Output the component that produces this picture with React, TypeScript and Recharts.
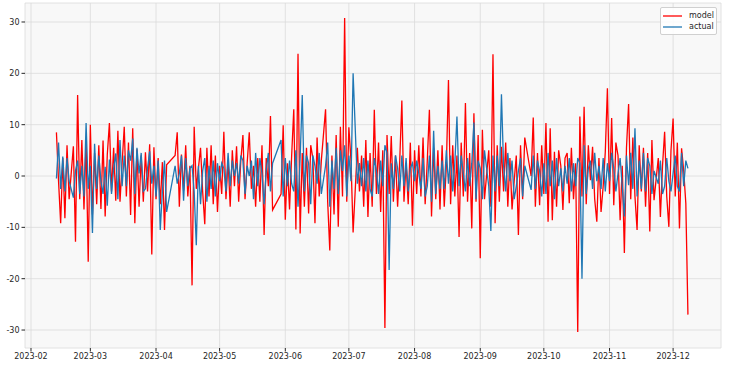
import React from 'react';
import { LineChart, Line, XAxis, YAxis, CartesianGrid } from 'recharts';

// weekday observations, counted as days since 2023-02-01
const days = [
  12, 13, 14, 15, 16, 20, 21, 22, 23, 26, 27, 28, 29, 30,
  33, 34, 35, 36, 37, 40, 41, 42, 43, 44, 47, 48, 49, 50, 51,
  54, 55, 56, 57, 58, 61, 62, 63, 64, 68, 69, 70, 71, 72,
  75, 76, 77, 78, 79, 82, 83, 84, 85, 86, 89, 90, 91, 92, 93,
  96, 97, 98, 99, 100, 103, 104, 105, 106, 107, 110, 111, 112, 113, 114,
  118, 119, 120, 121, 124, 125, 126, 127, 128, 131, 132, 133, 134, 135,
  139, 140, 141, 142, 145, 146, 147, 148, 149, 152, 154, 155, 156,
  159, 160, 161, 162, 163, 166, 167, 168, 169, 170, 173, 174, 175, 176, 177,
  180, 181, 182, 183, 184, 187, 188, 189, 190, 191, 194, 195, 196, 197, 198,
  201, 202, 203, 204, 205, 208, 209, 210, 211, 212, 216, 217, 218, 219,
  222, 223, 224, 225, 226, 229, 230, 231, 232, 233, 236, 237, 238, 239, 240,
  243, 244, 245, 246, 247, 250, 251, 252, 253, 254, 257, 258, 259, 260, 261,
  264, 265, 266, 267, 268, 271, 272, 273, 274, 275, 278, 279, 280, 281, 282,
  285, 286, 287, 288, 289, 292, 293, 294, 296, 299, 300, 301, 302, 303,
  306, 307, 308, 309, 310,
];

const model = [
  8.5, -1.0, -9.2, 3.5, -8.2, 5.8, -12.8, 15.8, -4.5, 6.6, -16.7, 10.0, -7.5, 4.5,
  -6.4, 6.9, -7.9, 4.2, 10.3, -4.8, 8.8, -5.0, 2.5, 9.6, -7.6, 9.3, -9.2, 5.2, -6.0,
  4.6, -3.0, 6.2, -15.3, 5.6, -5.5, 2.7, -10.5, 2.2, 4.0, 8.5, -6.0, 4.2, -2.8,
  2.0, -21.3, 9.6, -2.5, 1.5, -9.4, 5.5, -4.0, 6.0, -5.5, 2.0, -3.5, 8.6, -4.5, 3.0,
  -2.0, 5.8, -5.0, 3.0, 8.0, 8.5, -2.5, 2.0, -6.0, 3.5, -11.5, 3.5, -2.0, 11.7, -6.6,
  -3.5, 9.9, -8.5, 2.5, 13.0, -10.4, 23.8, -11.2, 4.5, -7.3, 6.0, 3.5, -9.2, 7.5,
  13.0, -5.0, -14.5, 4.0, -9.9, 9.6, -4.0, 30.8, -5.0, -11.0, 5.5, -3.0, 4.0,
  -8.0, 4.5, -6.0, 12.9, -3.5, 5.0, -29.6, 8.0, -3.5, 7.8, -6.0, 3.0, 14.7, -5.0, 2.5,
  -9.7, 5.0, -3.5, 6.0, -4.0, 3.0, 12.9, -7.9, 5.5, -4.5, 6.0, -6.0, 2.0, 18.7, -5.5,
  4.0, -11.9, 6.5, -4.0, 14.2, -10.2, 12.2, -5.0, 8.0, -16.0, 5.0, -6.0, 23.7, -9.2,
  5.7, -3.0, 6.5, -6.0, 3.5, 4.0, -11.5, 6.0, -4.5, 7.5, 0.0, 11.4, -6.0, 4.5, -5.7,
  10.3, -8.9, 9.3, -8.6, 4.7, 2.0, -6.6, 3.5, 4.5, -5.3, 2.5, -30.4, 11.6, -4.0, 13.5,
  -0.8, 5.7, -4.5, -8.9, 3.5, 4.7, 17.1, -3.5, 11.3, -5.7, -8.6, 2.0, -15.0, 5.5, 14.0,
  -4.0, -10.5, 6.0, -3.0, 5.5, -10.8, 7.0, -4.7, 3.5, 8.6, -4.0, -9.9, 5.0, 11.2,
  -10.2, 5.4, 1.0, -5.3, -27.0,
];

const actual = [
  -0.5, 6.5, -2.5, 3.8, -3.0, -4.2, 1.0, 3.0, -3.5, 10.3, -2.5, 2.0, -11.1, 6.3,
  -1.0, -3.5, 1.8, -5.8, 3.2, 4.4, -4.5, 7.0, -2.0, 4.0, 3.0, 7.3, -3.5, 5.5, 0.5,
  -2.5, 1.5, 4.8, -1.5, 2.0, -10.5, -3.0, 3.0, -7.0, 2.0, -1.5, 0.5, 4.0, -4.8,
  1.5, 2.0, -3.0, -13.5, 2.0, 3.5, -5.0, 2.0, -2.5, 3.0, -1.0, 2.5, 1.5, -3.0, 4.5,
  0.0, 2.5, -1.5, 4.0, 3.0, 0.0, 3.0, -4.5, 4.5, -2.0, -5.5, 1.0, 4.5, -3.0, 2.5,
  7.0, -4.0, 3.5, -2.0, -3.0, 5.0, -6.0, 3.5, 15.8, 2.5, -5.5, 4.0, 2.0, -1.5,
  2.0, 6.5, -6.0, 3.0, -3.5, 5.0, 1.0, 6.0, -4.0, 20.0, -1.5, 2.5, -2.0,
  3.0, -2.5, -4.0, 3.5, 1.0, -2.0, 6.0, 4.5, -18.3, 2.5, 1.5, -3.0, 4.0, -2.0, 3.5,
  2.5, -1.0, 3.0, 0.5, -2.5, -2.0, 4.0, -5.0, 8.8, -3.5, 3.0, -2.5, 5.0, -1.5, 4.0,
  11.6, -2.0, 4.0, 0.5, -3.0, 2.5, 10.4, -4.5, 3.0, 1.5, -2.0, -10.7, 4.0, -3.0,
  15.9, 2.0, -3.0, 4.5, -1.0, -2.0, 1.0, 3.5, -4.0, 2.0, -2.7, 4.0, -2.5, 3.0, 1.0,
  -3.5, 4.5, -2.0, 3.0, -4.5, 1.5, -3.0, 2.0, -1.5, 3.5, -2.0, 3.5, 2.5, -20.0, 6.0,
  3.0, -2.5, 4.5, -1.0, 2.0, -3.0, 2.5, -1.0, 4.5, 1.5, 3.5, -2.0, -7.9, 4.0, -1.8,
  9.3, -4.0, 3.0, -2.5, 4.5, 2.0, -3.5, 1.0, -1.5, -2.0, 3.5, -1.0, -3.0, 0.5,
  -3.0, 4.5, -2.0, 3.0, 1.5,
];

// weekend observations (Sat, Sun), same day counting
const weekendDays = [
  17, 18, 24, 25, 31, 32, 38, 39, 45, 46, 52, 53, 59, 60,
  73, 74, 80, 81, 87, 88, 94, 95, 101, 102, 108, 109,
  122, 123, 129, 130, 136, 137, 143, 144, 150, 151, 157, 158, 164, 165,
  171, 172, 178, 179, 185, 186, 192, 193, 199, 200, 206, 207, 213, 214,
  220, 221, 227, 228, 241, 242, 248, 249, 255, 256, 262, 263, 269, 270,
  276, 277, 283, 284, 290, 291, 297, 298, 304, 305,
];

const weekendModel = [
  6.0, -4.5, 7.0, -6.5, -5.5, 6.0, -3.0, 5.5, -4.0, 6.5, 4.0, -5.0, -4.5, 3.5,
  6.0, -4.0, 5.5, -3.0, 4.0, -7.0, -6.0, 5.0, -4.5, 2.5, -5.0, 6.0,
  -6.5, 4.0, -6.0, 5.5, -4.0, 3.0, -7.5, 8.0, 9.5, 3.0, -6.0, 7.0, 6.5, -7.0,
  -5.0, 4.0, -5.5, 6.5, 7.5, -5.5, 5.0, -6.5, 6.0, -4.0, -5.0, 4.5, 9.0, -4.5,
  6.0, -5.0, -6.5, -1.0, 6.0, -3.5, -6.0, 5.0, 5.5, -4.5, -5.5, 6.0, -7.0, -2.0,
  6.5, 4.0, -4.5, 7.5, -6.0, 4.5, -8.0, 2.0, -4.0, 6.5,
];

const weekendActual = [
  3.5, -1.0, 2.0, -4.0, -2.5, 4.0, -3.5, 1.5, -2.0, 5.0, 4.5, -3.0, -4.0, 3.0,
  3.5, -2.0, -5.5, 1.0, -4.0, 2.5, -2.0, 3.0, -3.5, 2.0, 3.5, 0.5,
  3.0, -1.5, -3.0, 4.0, 4.5, -3.5, -2.5, 5.5, 4.0, -1.0, 3.5, -3.0, -3.5, 3.0,
  -2.5, 4.0, -3.0, 1.5, 3.5, -4.0, 2.0, -2.5, -3.0, 2.5, 3.5, -2.0, -4.5, 5.0,
  4.0, -2.0, 3.0, -4.5, -4.0, 2.5, 3.5, -2.0, -3.0, 2.5, -3.5, 1.5, -2.5, 3.5,
  -3.0, 0.5, 4.5, -2.5, -3.0, 3.5, 3.0, -3.5, 4.0, -2.0,
];

const monthTicks = [0, 28, 59, 89, 120, 150, 181, 212, 242, 273, 303];
const monthLabels = [
  '2023-02', '2023-03', '2023-04', '2023-05', '2023-06', '2023-07',
  '2023-08', '2023-09', '2023-10', '2023-11', '2023-12',
];
const yTicks = [-30, -20, -10, 0, 10, 20, 30];

const series = [
  { key: 'model', color: '#ff0000' },
  { key: 'actual', color: '#1f77b4' },
];

const data = [
  ...days.map((d, i) => ({ day: d, model: model[i], actual: actual[i] })),
  ...weekendDays.map((d, i) => ({ day: d, model: weekendModel[i], actual: weekendActual[i] })),
].sort((a, b) => a.day - b.day);

const font = 'DejaVu Sans, sans-serif';
const tickStyle = { fontSize: 8, fill: '#262626', fontFamily: font };

export default function App() {
  return (
    <div style={{ position: 'absolute', left: 0, top: 0, width: 731, height: 371, background: '#fff' }}>
      <LineChart width={731} height={371} data={data} margin={{ top: 3, right: 10, bottom: 0, left: 0 }}>
        <CartesianGrid stroke="#dadada" fill="#f8f8f8" strokeWidth={0.8} />
        <XAxis
          type="number"
          dataKey="day"
          domain={[-2.83, 325.6]}
          allowDataOverflow
          ticks={monthTicks}
          interval={0}
          tickFormatter={(v: number) => monthLabels[monthTicks.indexOf(v)]}
          axisLine={false}
          tickLine={{ stroke: '#262626' }}
          tickSize={3.5}
          height={23}
          tick={tickStyle}
        />
        <YAxis
          type="number"
          domain={[-33.5, 33.7]}
          allowDataOverflow
          ticks={yTicks}
          interval={0}
          axisLine={false}
          tickLine={{ stroke: '#262626' }}
          tickSize={3.5}
          width={25}
          tick={tickStyle}
        />
        {series.map((s) => (
          <Line
            key={s.key}
            type="linear"
            dataKey={s.key}
            stroke={s.color}
            strokeWidth={1.3}
            dot={false}
            isAnimationActive={false}
          />
        ))}
      </LineChart>
      <div
        style={{
          position: 'absolute',
          left: 660,
          top: 7,
          width: 57,
          height: 28,
          boxSizing: 'border-box',
          background: 'rgba(255,255,255,0.85)',
          border: '1px solid #d0d0d0',
          borderRadius: 2,
          fontFamily: font,
          fontSize: 8,
          color: '#262626',
        }}
      >
        {series.map((s, i) => (
          <div key={s.key} style={{ position: 'absolute', left: 2, top: 2 + i * 11, height: 11, display: 'flex', alignItems: 'center' }}>
            <svg width={19} height={4} style={{ marginRight: 7 }}>
              <line x1={0} y1={2} x2={19} y2={2} stroke={s.color} strokeWidth={1.3} />
            </svg>
            <span>{s.key}</span>
          </div>
        ))}
      </div>
    </div>
  );
}
